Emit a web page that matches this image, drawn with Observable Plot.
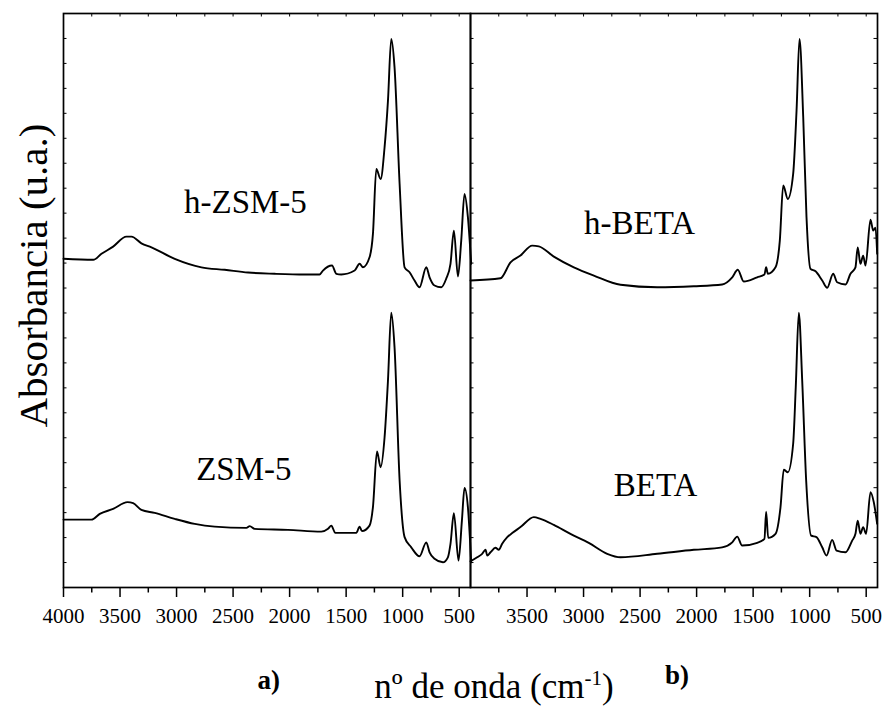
<!DOCTYPE html>
<html>
<head>
<meta charset="utf-8">
<script src="https://cdn.jsdelivr.net/npm/d3@7"></script>
<script src="https://cdn.jsdelivr.net/npm/@observablehq/plot@0.6"></script>
<style>
  html, body { margin: 0; padding: 0; background: #fff; }
</style>
</head>
<body>
<div id="chart"></div>
<script>
// ---- Data (wavenumber cm-1, absorbance a.u. with vertical offset) ----
const hZSM5_wn  = [4000,3737,3664,3561,3443,3399,3311,3222,3016,2780,2574,2367,2132,1867,1735,1705,1625,1587,1543,1425,1381,1351,1293,1263,1233,1195,1160,1130,1101,1072,1027,983,939,895,851,791,762,718,659,615,577,547,511,482,453,423,394];
const hZSM5_abs = [13.17,13.13,13.37,13.66,14.06,14.06,13.79,13.63,13.17,12.83,12.73,12.62,12.57,12.54,12.54,12.70,12.90,12.57,12.54,12.70,12.97,12.83,13.23,14.17,16.77,16.37,17.64,19.51,21.98,20.85,16.17,12.83,12.63,12.30,12.03,12.83,12.43,12.10,12.03,12.37,12.97,14.30,12.46,13.90,15.77,14.84,12.97];

const ZSM5_wn  = [4000,3753,3679,3561,3434,3384,3311,3193,3016,2839,2663,2382,2353,2309,2014,1720,1660,1631,1596,1410,1381,1360,1293,1263,1227,1195,1160,1130,1101,1072,1027,983,924,851,791,762,718,644,600,577,547,506,476,453,423,394];
const ZSM5_abs = [2.72,2.72,2.95,3.15,3.42,3.38,3.11,2.99,2.75,2.55,2.44,2.39,2.46,2.35,2.31,2.24,2.35,2.48,2.19,2.19,2.44,2.26,2.48,3.22,5.45,4.82,6.02,8.29,11.01,9.63,4.29,2.02,1.61,1.25,1.81,1.41,1.15,1.01,1.21,1.75,2.98,1.08,2.68,3.99,3.22,1.01];

const hBETA_wn  = [4000,3735,3646,3558,3454,3396,3263,3086,2909,2673,2349,2025,1774,1685,1636,1583,1464,1400,1385,1370,1302,1264,1234,1193,1146,1116,1090,1057,1028,993,948,889,845,792,757,683,639,595,575,551,527,506,462,438,418,403];
const hBETA_abs = [12.30,12.39,13.03,13.30,13.70,13.67,13.26,12.83,12.50,12.13,12.03,12.07,12.14,12.43,12.73,12.26,12.43,12.54,12.83,12.57,12.83,13.90,16.11,15.57,16.57,19.11,21.98,18.84,14.84,12.77,12.67,12.30,12.01,12.57,12.23,12.14,12.57,12.83,13.63,12.97,13.30,12.90,14.74,14.30,14.42,13.37];

const BETA_wn  = [4000,3941,3897,3867,3852,3823,3779,3750,3720,3675,3631,3558,3440,3381,3263,3116,2954,2791,2673,2349,2025,1774,1685,1641,1597,1464,1400,1385,1367,1302,1258,1229,1193,1146,1123,1096,1066,1031,987,940,889,851,801,762,683,624,595,575,551,527,501,462,433,403];
const BETA_abs = [1.05,1.21,1.35,1.51,1.28,1.41,1.59,1.51,1.75,2.02,2.18,2.42,2.82,2.75,2.51,2.15,1.79,1.35,1.21,1.35,1.51,1.61,1.81,2.04,1.68,1.79,1.95,3.04,1.99,2.15,3.22,4.72,4.62,5.76,8.03,11.01,8.29,4.29,2.08,2.02,1.61,1.28,1.91,1.48,1.41,1.88,2.15,2.68,2.15,2.42,2.15,3.82,3.42,2.55];

const panels = ["a", "b"];
const seriesNames = ["h-ZSM-5", "ZSM-5", "h-BETA", "BETA"];
const seriesPanels = ["a", "a", "b", "b"];

// tick values
const majorTicksA = [4000,3500,3000,2500,2000,1500,1000,500];
const majorTicksB = [3500,3000,2500,2000,1500,1000,500];
const minorTicks  = [3750,3250,2750,2250,1750,1250,750];
const topTicks    = [4000,3750,3500,3250,3000,2750,2500,2250,2000,1750,1500,1250,1000,750,500];
const yTicks      = [1,2,3,4,5,6,7,8,9,10,11,12,13,14,15,16,17,18,19,20,21,22];

// label anchors (wavenumber, absorbance) for series names
const labelWn  = [2391, 2405, 2505, 2364];
const labelAbs = [15.0, 4.29, 14.18, 3.65];

const yTitle = "Absorbancia (u.a.)";
const xTitle = "nº de onda (cm-1)";
const panelTags = ["a)", "b)"];

// ---- build tables ----
const allWn  = [hZSM5_wn, ZSM5_wn, hBETA_wn, BETA_wn];
const allAbs = [hZSM5_abs, ZSM5_abs, hBETA_abs, BETA_abs];
const rows = seriesNames.flatMap((name, k) =>
  allWn[k].map((w, i) => ({series: name, panel: seriesPanels[k], wn: w, abs: allAbs[k][i]})));

const bottomMajor = [
  ...majorTicksA.map(v => ({panel: "a", wn: v})),
  ...majorTicksB.map(v => ({panel: "b", wn: v}))
];
const bottomMinor = panels.flatMap(p => minorTicks.map(v => ({panel: p, wn: v})));
const topRows = panels.flatMap(p => topTicks.map(v => ({panel: p, wn: v})));
const yRows = panels.flatMap(p => yTicks.map(v => ({panel: p, v})));
const labels = seriesNames.map((name, k) => ({panel: seriesPanels[k], name, wn: labelWn[k], abs: labelAbs[k]}));
const tags = panels.map((p, i) => ({panel: p, tag: panelTags[i]}));

const W = 885, H = 706, mL = 62, mR = 8, mT = 13, mB = 119;
const wnPerPx = 3600 / ((W - mL - mR) / 2);
const absPerPx = 23 / (H - mT - mB);
const serif = "'Liberation Serif'";

const chart = Plot.plot({
  width: W, height: H,
  marginLeft: mL, marginRight: mR, marginTop: mT, marginBottom: mB,
  fx: {domain: panels, padding: 0, axis: null},
  x: {domain: [4000, 400], axis: null},
  y: {domain: [0, 23], axis: null},
  marks: [
    // ticks
    Plot.ruleX(bottomMajor, {fx: "panel", x: "wn", y1: 0, y2: -10 * absPerPx, stroke: "#000", strokeWidth: 1.5}),
    Plot.ruleX(bottomMinor, {fx: "panel", x: "wn", y1: 0, y2: -5.5 * absPerPx, stroke: "#000", strokeWidth: 1.5}),
    Plot.ruleX(topRows, {fx: "panel", x: "wn", y1: 23, y2: 23 - 3.5 * absPerPx, stroke: "#000", strokeWidth: 1}),
    Plot.ruleY(yRows, {fx: "panel", y: "v", x1: 4000, x2: 4000 - 3.5 * wnPerPx, stroke: "#000", strokeWidth: 1}),
    Plot.ruleY(yRows.filter(d => d.panel === "b"), {fx: "panel", y: "v", x1: 400, x2: 400 + 3.5 * wnPerPx, stroke: "#000", strokeWidth: 1}),
    // tick labels
    Plot.text(bottomMajor, {fx: "panel", x: "wn", y: 0, dy: 35, lineAnchor: "bottom", text: d => String(d.wn),
      fontSize: 21, fontFamily: serif, fill: "#000"}),
    // spectra
    Plot.line(rows, {fx: "panel", x: "wn", y: "abs", z: "series", curve: "monotone-x", stroke: "#000", strokeWidth: 1.9, strokeLinejoin: "round"}),
    // frame
    Plot.frame({stroke: "#000", strokeWidth: 1.7}),
    // series labels
    Plot.text(labels, {fx: "panel", x: "wn", y: "abs", text: "name", lineAnchor: "bottom", fontSize: 33, fontFamily: serif, fill: "#000"}),
    // panel tags
    Plot.text(tags.filter(d => d.panel === "a"),
      {fx: "panel", x: 2184, y: 0, dy: 101, lineAnchor: "bottom", text: "tag", fontSize: 27, fontWeight: "bold", fontFamily: serif, fill: "#000"}),
    Plot.text(tags.filter(d => d.panel === "b"),
      {fx: "panel", x: 2174, y: 0, dy: 96, lineAnchor: "bottom", text: "tag", fontSize: 27, fontWeight: "bold", fontFamily: serif, fill: "#000"}),
    // axis titles
    Plot.text([{panel: "a", label: yTitle}],
      {fx: "panel", x: 4000 + 30 * wnPerPx, y: 12.5, rotate: -90, text: "label", fontSize: 41, fontFamily: serif, fill: "#000"}),
    Plot.text([{panel: "a", label: xTitle}],
      {fx: "panel", x: 4000 - 431 * wnPerPx, y: 0, dy: 110, lineAnchor: "bottom", text: "label", fontSize: 35, fontFamily: serif, fill: "#000"})
  ]
});

// superscript in the x title
d3.select(chart).selectAll("text").filter(function() { return this.textContent === xTitle; })
  .each(function() {
    const t = d3.select(this);
    t.text(null);
    t.append("tspan").text("nº de onda (cm");
    t.append("tspan").attr("dy", -13).attr("font-size", 21).text("-1");
    t.append("tspan").attr("dy", 13).text(")");
  });

document.getElementById("chart").appendChild(chart);
</script>
</body>
</html>
